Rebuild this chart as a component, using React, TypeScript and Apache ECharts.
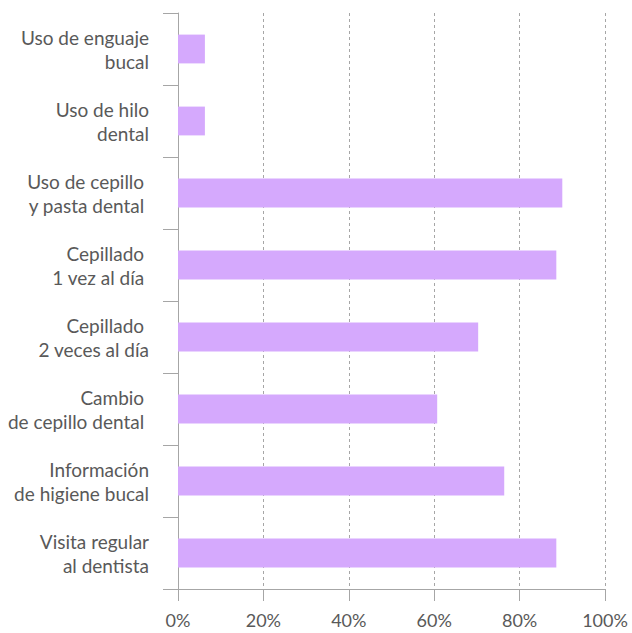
import React, { useEffect, useRef } from "react";
import * as echarts from "echarts";

const categories = [
  "Uso de enguaje\nbucal",
  "Uso de hilo\ndental",
  "Uso de cepillo \ny pasta dental ",
  "Cepillado \n1 vez al día ",
  "Cepillado \n2 veces al día",
  "Cambio \nde cepillo dental ",
  "Información\nde higiene bucal",
  "Visita regular\nal dentista",
];
const values = [6.3, 6.3, 90.0, 88.6, 70.3, 60.7, 76.4, 88.6];
const xTicks = [0, 20, 40, 60, 80, 100];

export default function App() {
  const ref = useRef<HTMLDivElement>(null);
  useEffect(() => {
    if (!ref.current) return;
    const chart = echarts.init(ref.current, null, { renderer: "svg" });
    chart.setOption({
      animation: false,
      grid: {
        left: 178,
        right: 27,
        top: 13,
        bottom: 44,
        containLabel: false,
        outerBoundsMode: "none",
      },
      xAxis: {
        type: "value",
        min: xTicks[0],
        max: xTicks[xTicks.length - 1],
        interval: 20,
        axisLine: { show: true, lineStyle: { color: "#a6a6a6", width: 1 } },
        axisTick: { show: true, length: 12, lineStyle: { color: "#a6a6a6" } },
        axisLabel: {
          formatter: (v: number) => v + "%",
          color: "#595959",
          fontFamily: "Lato",
          fontSize: 18,
          margin: 22,
        },
        splitLine: { show: true, lineStyle: { color: "#a6a6a6", type: [3, 3], width: 1 } },
      },
      yAxis: {
        type: "category",
        inverse: true,
        data: categories,
        axisLine: { show: true, lineStyle: { color: "#a6a6a6", width: 1 } },
        axisTick: { show: true, length: 15, lineStyle: { color: "#a6a6a6" } },
        axisLabel: {
          color: "#595959",
          fontFamily: "Lato",
          fontSize: 19,
          lineHeight: 24,
          margin: 29,
          align: "right",
          padding: [0, 0, 8, 0],
        },
        splitLine: { show: false },
      },
      series: [
        {
          type: "bar",
          data: values,
          barCategoryGap: "60%",
          itemStyle: { color: "#d5a9fd" },
        },
      ],
    });
    return () => chart.dispose();
  }, []);
  return (
    <div
      ref={ref}
      style={{ position: "absolute", left: 0, top: 0, width: 632, height: 633 }}
    />
  );
}
